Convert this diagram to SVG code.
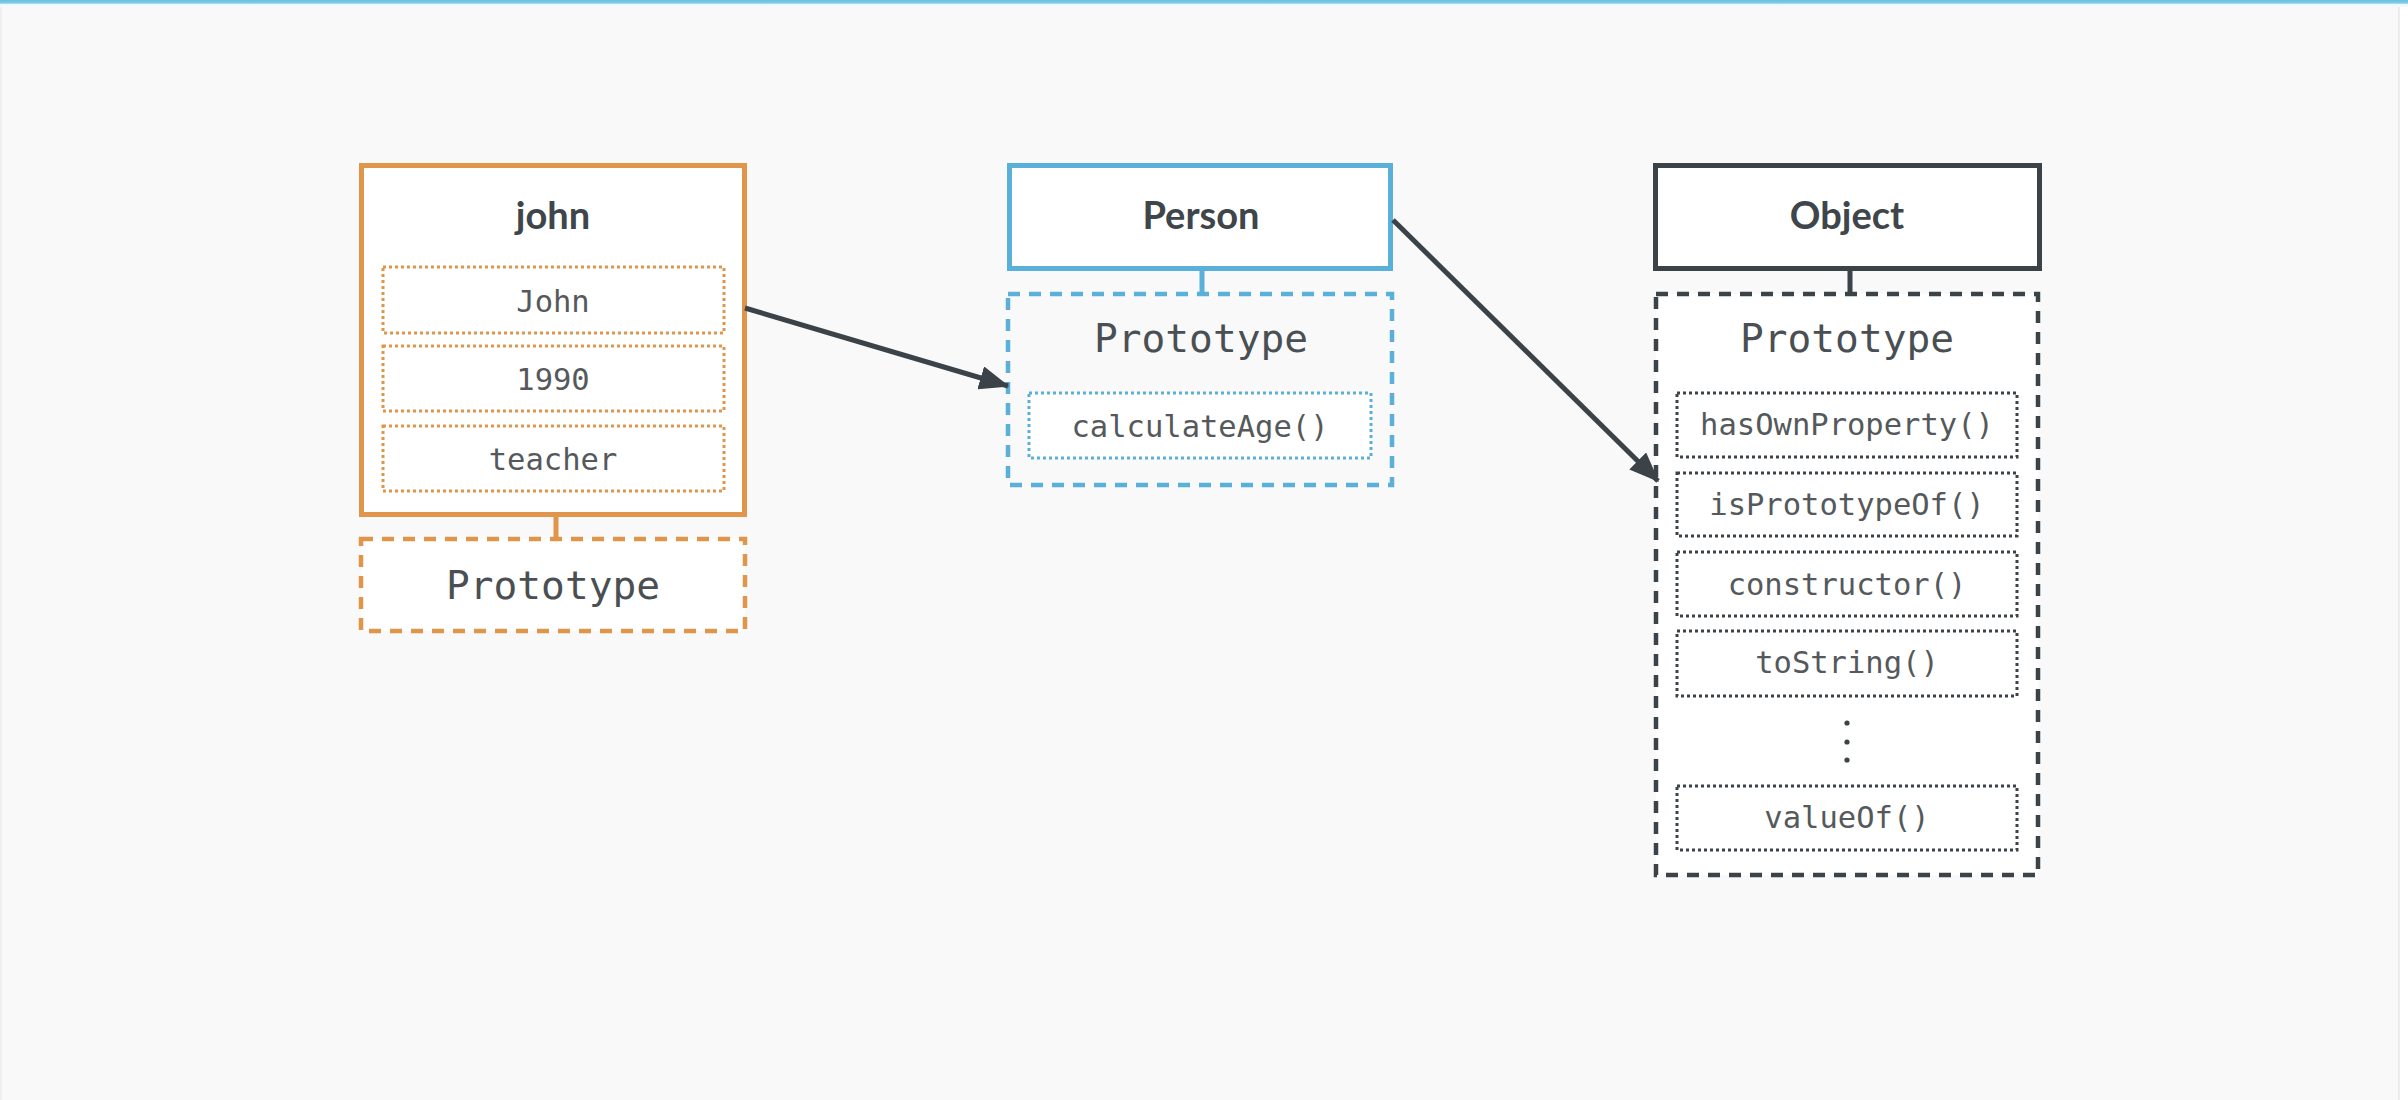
<svg xmlns="http://www.w3.org/2000/svg" width="2408" height="1100" viewBox="0 0 2408 1100">
  <defs>
    <linearGradient id="topGlow" x1="0" y1="0" x2="0" y2="1">
      <stop offset="0" stop-color="#6cbfe2"/>
      <stop offset="0.45" stop-color="#7fcbe9"/>
      <stop offset="0.6" stop-color="#e9f9ff"/>
      <stop offset="1" stop-color="#f9f9f9"/>
    </linearGradient>
    <marker id="arrow" viewBox="0 0 10 8" refX="9.5" refY="4" markerWidth="6" markerHeight="4.8" markerUnits="strokeWidth" orient="auto">
      <path d="M0,0 L10,4 L0,8 Z" fill="#3b4349"/>
    </marker>
  </defs>
  <style>
    .title { font-family: Lato, "Liberation Sans", sans-serif; font-weight: 700; font-size: 38px; fill: #3e454b; text-anchor: middle; }
    .proto { font-family: "DejaVu Sans Mono", "Liberation Mono", monospace; font-size: 39.5px; fill: #4a4f53; text-anchor: middle; }
    .field { font-family: "DejaVu Sans Mono", "Liberation Mono", monospace; font-size: 30.5px; fill: #55595c; text-anchor: middle; }
    .orange { stroke: #e0954a; }
    .blue { stroke: #5ab0d9; }
    .dark { stroke: #3b4349; }
    .solid { fill: #ffffff; stroke-width: 5; }
    .dashed { stroke-width: 4.5; stroke-dasharray: 12 9; }
    .dotted { fill: #ffffff; stroke-width: 3; stroke-dasharray: 3 3; }
    .link { stroke-width: 5; fill: none; }
    .conn { stroke: #3b4349; stroke-width: 5; fill: none; }
  </style>

  <!-- page -->
  <rect x="0" y="0" width="2408" height="1100" fill="#ffffff"/>
  <rect x="0" y="0" width="2400" height="1100" fill="#f9f9f9"/>
  <rect x="2398" y="0" width="2" height="1100" fill="#ececec"/>
  <rect x="0" y="0" width="2" height="1100" fill="#f0f0f0"/>
  <rect x="0" y="0" width="2408" height="7" fill="url(#topGlow)"/>

  <!-- john instance -->
  <g id="john">
    <rect class="solid orange" x="361.5" y="165.5" width="383" height="349"/>
    <text class="title" x="553" y="229">john</text>
    <rect class="dotted orange" x="383" y="267" width="341" height="66"/>
    <text class="field" x="553" y="312">John</text>
    <rect class="dotted orange" x="383" y="346" width="341" height="65"/>
    <text class="field" x="553" y="390">1990</text>
    <rect class="dotted orange" x="383" y="426" width="341" height="65"/>
    <text class="field" x="553" y="470">teacher</text>
  </g>
  <g id="john-prototype">
    <line class="link orange" x1="556" y1="515" x2="556" y2="539"/>
    <rect class="dashed orange" x="361" y="539" width="384" height="92" fill="#ffffff"/>
    <text class="proto" x="553" y="599">Prototype</text>
  </g>

  <!-- Person constructor -->
  <g id="person">
    <rect class="solid blue" x="1009.5" y="165.5" width="381" height="103"/>
    <text class="title" x="1201" y="229">Person</text>
  </g>
  <g id="person-prototype">
    <line class="link blue" x1="1202" y1="268" x2="1202" y2="304"/>
    <rect class="dashed blue" x="1008" y="294" width="384" height="191" fill="#f9f9f9"/>
    <text class="proto" x="1201" y="352">Prototype</text>
    <rect class="dotted blue" x="1029" y="393" width="342" height="65"/>
    <text class="field" x="1200" y="437">calculateAge()</text>
  </g>

  <!-- Object constructor -->
  <g id="object">
    <rect class="solid dark" x="1655.5" y="165.5" width="384" height="103"/>
    <text class="title" x="1847" y="229">Object</text>
  </g>
  <g id="object-prototype">
    <line class="link dark" x1="1850" y1="268" x2="1850" y2="296"/>
    <rect class="dashed dark" x="1656" y="294" width="382" height="581" fill="#ffffff"/>
    <text class="proto" x="1847" y="352">Prototype</text>
    <rect class="dotted dark" x="1677" y="393" width="340" height="64"/>
    <text class="field" x="1847" y="435">hasOwnProperty()</text>
    <rect class="dotted dark" x="1677" y="473" width="340" height="63"/>
    <text class="field" x="1847" y="515">isPrototypeOf()</text>
    <rect class="dotted dark" x="1677" y="552" width="340" height="64"/>
    <text class="field" x="1847" y="595">constructor()</text>
    <rect class="dotted dark" x="1677" y="631" width="340" height="65"/>
    <text class="field" x="1847" y="673">toString()</text>
    <circle cx="1847" cy="723" r="2.6" fill="#3b4349"/>
    <circle cx="1847" cy="742" r="2.6" fill="#3b4349"/>
    <circle cx="1847" cy="760" r="2.6" fill="#3b4349"/>
    <rect class="dotted dark" x="1677" y="786" width="340" height="64"/>
    <text class="field" x="1847" y="828">valueOf()</text>
  </g>

  <!-- prototype chain links -->
  <g id="connectors">
    <line class="conn" x1="745" y1="308" x2="1008" y2="386" marker-end="url(#arrow)"/>
    <line class="conn" x1="1393" y1="220" x2="1658" y2="481" marker-end="url(#arrow)"/>
  </g>
</svg>
